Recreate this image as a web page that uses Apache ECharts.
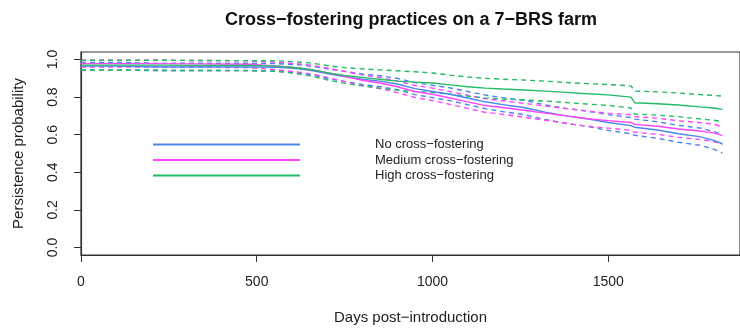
<!DOCTYPE html>
<html>
<head>
    <meta charset="utf-8">
    <title>ECharts</title>
    <script src="https://cdn.jsdelivr.net/npm/echarts@6/dist/echarts.min.js"></script>
</head>
<body style="margin:0">
<div id="main" style="width: 740px;height:330px;"></div>
<script type="text/javascript">
    var days = [0, 100, 230, 320, 480, 560, 620, 660, 700, 750, 800, 850, 900, 950, 1000, 1050,
        1100, 1150, 1200, 1260, 1320, 1380, 1440, 1500, 1565, 1575, 1640, 1700, 1760, 1800, 1825];

    // No cross-fostering
    var noMid = [0.965, 0.965, 0.96, 0.96, 0.96, 0.958, 0.95, 0.94, 0.925, 0.91, 0.895, 0.885, 0.87, 0.845, 0.83, 0.815,
        0.795, 0.775, 0.76, 0.745, 0.72, 0.70, 0.685, 0.665, 0.648, 0.64, 0.625, 0.605, 0.59, 0.57, 0.552];
    var noUp = [0.985, 0.985, 0.98, 0.98, 0.98, 0.978, 0.972, 0.963, 0.95, 0.937, 0.923, 0.914, 0.9, 0.877, 0.863, 0.849,
        0.83, 0.811, 0.797, 0.783, 0.759, 0.74, 0.726, 0.707, 0.691, 0.683, 0.669, 0.65, 0.636, 0.617, 0.6];
    var noLow = [0.945, 0.945, 0.94, 0.94, 0.94, 0.937, 0.928, 0.917, 0.9, 0.883, 0.867, 0.856, 0.84, 0.813, 0.797, 0.781,
        0.76, 0.739, 0.723, 0.707, 0.681, 0.66, 0.644, 0.623, 0.605, 0.597, 0.581, 0.56, 0.544, 0.523, 0.503];

    // Medium cross-fostering
    var medMid = [0.978, 0.978, 0.978, 0.977, 0.975, 0.965, 0.955, 0.945, 0.93, 0.91, 0.89, 0.875, 0.855, 0.83, 0.815, 0.795,
        0.775, 0.755, 0.745, 0.73, 0.715, 0.70, 0.685, 0.675, 0.665, 0.655, 0.645, 0.63, 0.62, 0.61, 0.595];
    var medUp = [0.996, 0.996, 0.996, 0.995, 0.993, 0.985, 0.977, 0.968, 0.955, 0.937, 0.918, 0.905, 0.886, 0.862, 0.848, 0.829,
        0.81, 0.791, 0.781, 0.767, 0.753, 0.739, 0.725, 0.715, 0.706, 0.697, 0.688, 0.674, 0.665, 0.656, 0.642];
    var medLow = [0.96, 0.96, 0.96, 0.959, 0.957, 0.945, 0.933, 0.922, 0.905, 0.883, 0.862, 0.845, 0.824, 0.798, 0.782, 0.761,
        0.74, 0.719, 0.709, 0.693, 0.677, 0.661, 0.645, 0.635, 0.624, 0.613, 0.602, 0.586, 0.575, 0.564, 0.548];

    // High cross-fostering
    var highMid = [0.97, 0.97, 0.97, 0.969, 0.968, 0.965, 0.955, 0.945, 0.93, 0.915, 0.905, 0.895, 0.885, 0.88, 0.875, 0.865,
        0.855, 0.848, 0.843, 0.838, 0.832, 0.825, 0.818, 0.812, 0.80, 0.77, 0.765, 0.758, 0.748, 0.742, 0.735];
    var highUp = [0.996, 0.996, 0.996, 0.995, 0.994, 0.993, 0.987, 0.98, 0.968, 0.957, 0.95, 0.945, 0.94, 0.935, 0.928, 0.917,
        0.907, 0.9, 0.895, 0.891, 0.885, 0.878, 0.872, 0.867, 0.86, 0.832, 0.828, 0.822, 0.814, 0.809, 0.805];
    var highLow = [0.944, 0.944, 0.944, 0.943, 0.942, 0.937, 0.923, 0.91, 0.892, 0.873, 0.86, 0.848, 0.837, 0.83, 0.825, 0.815,
        0.805, 0.796, 0.79, 0.785, 0.779, 0.771, 0.763, 0.756, 0.742, 0.71, 0.704, 0.696, 0.684, 0.677, 0.67];

    var groupNames = ['No cross\u2212fostering', 'Medium cross\u2212fostering', 'High cross\u2212fostering'];
    var groupColors = ['#4a86e8', '#ff44ff', '#22bb66'];
    var xTicks = [0, 500, 1000, 1500];
    var yTicks = [0, 0.2, 0.4, 0.6, 0.8, 1.0];

    function pairs(vals) {
        return days.map(function (d, i) { return [d, vals[i]]; });
    }
    function curve(name, vals, color, dashed) {
        return {
            name: name,
            type: 'line',
            symbol: 'none',
            silent: true,
            data: pairs(vals),
            lineStyle: {color: color, width: 1.4, type: dashed ? [5, 4] : 'solid'},
            itemStyle: {color: color},
            z: dashed ? 2 : 3
        };
    }

    var groups = [[noMid, noUp, noLow], [medMid, medUp, medLow], [highMid, highUp, highLow]];
    var series = [];
    groups.forEach(function (g, i) {
        series.push(curve(groupNames[i], g[0], groupColors[i], false));
        series.push(curve(groupNames[i] + ' upper', g[1], groupColors[i], true));
        series.push(curve(groupNames[i] + ' lower', g[2], groupColors[i], true));
    });

    var font = 'Liberation Sans, Arial, sans-serif';
    var myChart = echarts.init(document.getElementById('main'));
    var option = {
        animation: false,
        backgroundColor: '#fff',
        title: {
            text: 'Cross\u2212fostering practices on a 7\u2212BRS farm',
            left: 406, top: 6, textAlign: 'center',
            textStyle: {fontFamily: font, fontSize: 18, fontWeight: 'bold', color: '#111'}
        },
        legend: {
            data: groupNames,
            orient: 'vertical',
            left: 153, top: 138, padding: 0,
            icon: 'rect',
            itemWidth: 147, itemHeight: 2, itemGap: 2.5,
            selectedMode: false,
            textStyle: {fontFamily: font, fontSize: 13, color: '#222', padding: [0, 0, 0, 70]}
        },
        grid: {
            left: 81, top: 52, right: -6, bottom: 74,
            show: true, borderColor: '#333', borderWidth: 1.2
        },
        xAxis: {
            type: 'value', min: 0, max: 1875,
            name: 'Days post\u2212introduction', nameLocation: 'middle', nameGap: 55,
            nameTextStyle: {fontFamily: font, fontSize: 15, color: '#222'},
            axisLine: {show: true, onZero: false, lineStyle: {color: '#333', width: 1.2}},
            axisTick: {show: true, length: 7, customValues: xTicks, lineStyle: {color: '#333'}},
            axisLabel: {
                customValues: xTicks, margin: 20, fontFamily: font, fontSize: 14, color: '#222',
                formatter: function (v) { return String(v); }
            },
            splitLine: {show: false}
        },
        yAxis: {
            type: 'value', min: -0.04, max: 1.04,
            name: 'Persistence probability', nameLocation: 'middle', nameRotate: 90, nameGap: 55,
            nameTextStyle: {fontFamily: font, fontSize: 15, color: '#222'},
            axisLine: {show: true, onZero: false, lineStyle: {color: '#333', width: 1.2}},
            axisTick: {show: true, length: 7, customValues: yTicks, lineStyle: {color: '#333'}},
            axisLabel: {
                customValues: yTicks, rotate: 90, margin: 21, fontFamily: font, fontSize: 14, color: '#222',
                formatter: function (v) { return v.toFixed(1); }
            },
            splitLine: {show: false}
        },
        series: series
    };
    myChart.setOption(option);
</script>
</body>
</html>
